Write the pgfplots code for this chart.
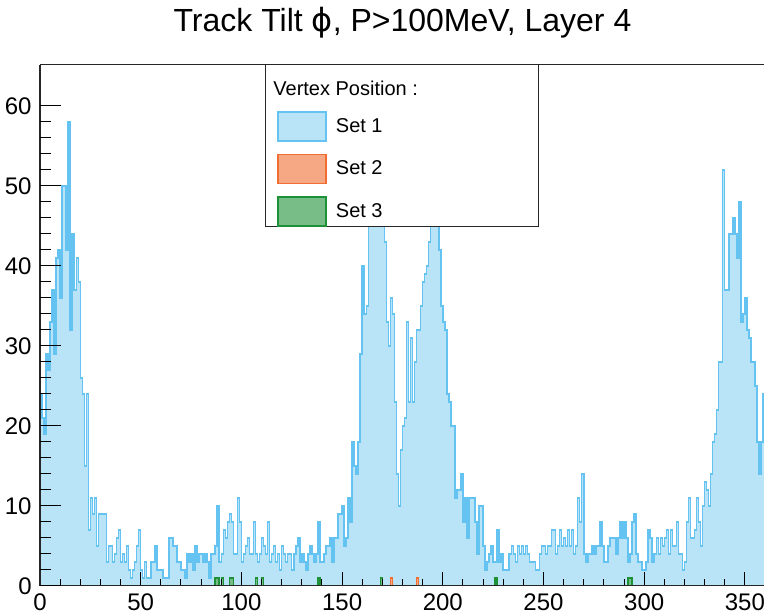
\documentclass[border=0pt]{standalone}
\usepackage{fontspec}
\setmainfont{Liberation Sans}
\newfontfamily\dejavu{DejaVu Sans}
\usepackage{pgfplots}
\pgfplotsset{compat=1.18}
\definecolor{set1}{RGB}{100,195,240}
\definecolor{set2}{RGB}{240,110,50}
\definecolor{set3}{RGB}{30,145,55}
\begin{document}
\begin{tikzpicture}
\begin{axis}[
  width=362.5pt, height=260.5pt, scale only axis,
  xmin=0, xmax=360, ymin=0, ymax=65.1,
  axis x line*=box, axis y line*=left,
  axis line style={line width=0.5pt, black!85},
  xtick={0,50,...,350}, minor x tick num=4, xtick pos=left,
  ytick=\empty,
  major tick length=7pt, minor tick length=3.5pt,
  tick align=inside, tick style={line width=0.5pt, black},
  xticklabel style={font=\fontsize{12}{14}\selectfont, inner sep=0pt, yshift=-3.5pt},
  /pgf/number format/assume math mode=true,
  axis on top,
  title={Track Tilt {\dejavu ϕ}, P>100MeV, Layer 4},
  title style={font=\fontsize{16}{19}\selectfont, at={(0.5,1)}, anchor=base, yshift=10.5pt},
  legend style={at={(0.3269,0.9117)}, anchor=north west, draw=none, fill=none, inner sep=0pt, row sep=6pt, column sep=4.5pt, font=\fontsize{10}{12}\selectfont, nodes={inner sep=0pt}},
  legend cell align=left,
]
\addplot[const plot, draw=set1, fill=set1!45!white, line width=0.75pt,
  legend image code/.code={\draw[draw=set1, fill=set1!45!white, line width=0.75pt] (0pt,-7.25pt) rectangle (24pt,7.25pt);}]
coordinates {
(0,24)(1,21)(2,19)(3,29)(4,27)(5,33)(6,37)(7,29)(8,41)(9,42)
(10,36)(11,50)(12,50)(13,42)(14,58)(15,32)(16,44)(17,37)(18,41)(19,38)
(20,26)(21,24)(22,15)(23,24)(24,7)(25,11)(26,9)(27,11)(28,5)(29,9)
(30,9)(31,9)(32,9)(33,3)(34,5)(35,5)(36,3)(37,4)(38,6)(39,7)
(40,3)(41,4)(42,3)(43,5)(44,2)(45,1)(46,2)(47,3)(48,5)(49,7)
(50,2)(51,1)(52,3)(53,1)(54,1)(55,3)(56,3)(57,5)(58,2)(59,2)
(60,2)(61,1)(62,1)(63,1)(64,6)(65,6)(66,5)(67,5)(68,3)(69,3)
(70,2)(71,2)(72,1)(73,4)(74,3)(75,4)(76,2)(77,5)(78,3)(79,4)
(80,4)(81,3)(82,4)(83,3)(84,1)(85,4)(86,4)(87,5)(88,10)(89,3)
(90,4)(91,7)(92,6)(93,8)(94,9)(95,8)(96,4)(97,4)(98,11)(99,8)
(100,3)(101,4)(102,5)(103,6)(104,4)(105,4)(106,8)(107,4)(108,3)(109,4)
(110,6)(111,5)(112,4)(113,8)(114,3)(115,4)(116,5)(117,3)(118,4)(119,2)
(120,5)(121,4)(122,3)(123,4)(124,4)(125,2)(126,4)(127,5)(128,6)(129,3)
(130,4)(131,3)(132,2)(133,4)(134,5)(135,4)(136,3)(137,4)(138,8)(139,3)
(140,3)(141,4)(142,5)(143,5)(144,6)(145,3)(146,6)(147,6)(148,9)(149,9)
(150,10)(151,5)(152,6)(153,11)(154,8)(155,18)(156,15)(157,14)(158,18)(159,29)
(160,40)(161,34)(162,35)(163,47)(164,52)(165,55)(166,62)(167,50)(168,48)(169,46)
(170,45)(171,43)(172,33)(173,30)(174,36)(175,34)(176,23)(177,14)(178,10)(179,17)
(180,20)(181,21)(182,33)(183,23)(184,31)(185,23)(186,28)(187,32)(188,32)(189,35)
(190,38)(191,39)(192,40)(193,43)(194,48)(195,53)(196,49)(197,45)(198,42)(199,35)
(200,33)(201,32)(202,24)(203,23)(204,20)(205,20)(206,11)(207,12)(208,12)(209,14)
(210,8)(211,11)(212,6)(213,11)(214,11)(215,11)(216,8)(217,4)(218,10)(219,10)
(220,5)(221,2)(222,3)(223,4)(224,5)(225,3)(226,3)(227,7)(228,3)(229,4)
(230,2)(231,2)(232,2)(233,4)(234,5)(235,4)(236,3)(237,5)(238,4)(239,5)
(240,4)(241,5)(242,4)(243,3)(244,3)(245,3)(246,2)(247,2)(248,4)(249,5)
(250,5)(251,4)(252,5)(253,5)(254,7)(255,7)(256,4)(257,5)(258,7)(259,5)
(260,6)(261,5)(262,7)(263,5)(264,7)(265,4)(266,5)(267,11)(268,8)(269,14)
(270,4)(271,3)(272,4)(273,4)(274,5)(275,4)(276,5)(277,5)(278,8)(279,5)
(280,3)(281,3)(282,5)(283,6)(284,6)(285,6)(286,4)(287,6)(288,8)(289,6)
(290,8)(291,6)(292,3)(293,4)(294,8)(295,9)(296,4)(297,3)(298,3)(299,2)
(300,2)(301,3)(302,7)(303,6)(304,3)(305,4)(306,6)(307,4)(308,6)(309,5)
(310,6)(311,7)(312,4)(313,7)(314,5)(315,5)(316,8)(317,4)(318,4)(319,2)
(320,3)(321,8)(322,11)(323,6)(324,6)(325,7)(326,11)(327,8)(328,5)(329,10)
(330,13)(331,12)(332,10)(333,14)(334,18)(335,19)(336,22)(337,28)(338,28)(339,52)
(340,37)(341,37)(342,44)(343,44)(344,46)(345,44)(346,41)(347,48)(348,33)(349,34)
(350,36)(351,32)(352,31)(353,28)(354,28)(355,25)(356,18)(357,14)(358,18)(359,24)
(360,24)
} \closedcycle;
\addlegendentry{Set 1}
\addplot[const plot, draw=set2, fill=set2!60!white, line width=0.75pt,
  legend image code/.code={\draw[draw=set2, fill=set2!60!white, line width=0.75pt] (0pt,-7.25pt) rectangle (24pt,7.25pt);}]
coordinates {(0,0)(174,1)(175,0)(187,1)(188,0)(360,0)} \closedcycle;
\addlegendentry{Set 2}
\addplot[const plot, draw=set3, fill=set3!60!white, line width=0.75pt,
  legend image code/.code={\draw[draw=set3, fill=set3!60!white, line width=0.75pt] (0pt,-7.25pt) rectangle (24pt,7.25pt);}]
coordinates {(0,0)(87,1)(89,0)(90,1)(91,0)(94,1)(96,0)(107,1)(108,0)(110,1)(111,0)(138,1)(139,0)(169,1)(170,0)(226,1)(227,0)(292,1)(294,0)(360,0)} \closedcycle;
\addlegendentry{Set 3}
\draw[draw=black!85, fill=white, line width=0.5pt] (rel axis cs:0.3117,1) rectangle (rel axis cs:0.6869,0.6891);
\node[anchor=west, inner sep=0pt, font=\fontsize{10}{12}\selectfont, text=black] at (rel axis cs:0.3214,0.9559) {Vertex Position :};
\end{axis}
\begin{axis}[
  width=362.5pt, height=260.5pt, scale only axis,
  xmin=0, xmax=360, ymin=0, ymax=65.1,
  axis x line=none, axis y line*=left,
  axis line style={line width=0.5pt, black!85},
  ytick={0,10,...,60}, minor y tick num=4, ytick pos=left,
  major tick length=10.5pt, minor tick length=5.5pt,
  tick align=inside, tick style={line width=0.5pt, black},
  yticklabel style={font=\fontsize{12}{14}\selectfont, inner sep=0pt, xshift=-4pt},
  /pgf/number format/assume math mode=true,
]
\end{axis}
\pgfresetboundingbox
\path[use as bounding box] (-20pt,-14pt) rectangle (362pt,293pt);
\end{tikzpicture}
\end{document}
